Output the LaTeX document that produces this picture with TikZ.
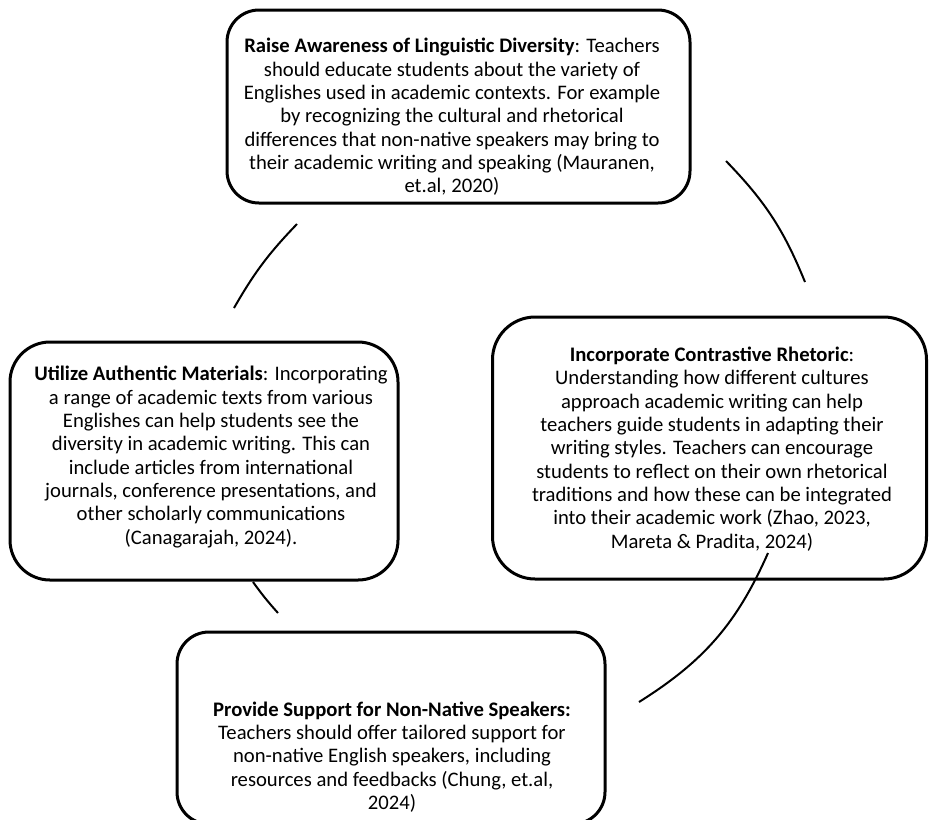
\documentclass[tikz,border=0pt]{standalone}
\usepackage{fontspec}
\setmainfont{Carlito}
\begin{document}
\begin{tikzpicture}[x=0.75pt,y=-0.75pt,
  card/.style={draw=black, line width=2.25pt, rounded corners=#1,
    inner sep=0pt, fill=none},
  cardtext/.style={align=center, inner sep=0pt,
    font=\fontsize{15.5}{17.5}\selectfont},
  link/.style={draw=black, line width=1.5pt}]
\useasboundingbox (0,0) rectangle (929,819);
\clip (0,0) rectangle (929,819);

% the four rounded cards
\node[card=24pt, minimum width=347.25pt, minimum height=144.75pt] (awareness) at (458.5,106.5) {};
\node[card=30pt, minimum width=291pt, minimum height=178.5pt] (materials) at (204,461) {};
\node[card=32pt, minimum width=325.5pt, minimum height=196.5pt] (rhetoric) at (709.5,448) {};
\node[card=24pt, minimum width=321pt, minimum height=144pt] (support) at (391,728) {};

% card texts
\node[cardtext] (awarenesstext) at (452,117) {\textbf{Raise Awareness of Linguistic Diversity}: Teachers\\
should educate students about the variety of\\
Englishes used in academic contexts. For example\\
by recognizing the cultural and rhetorical\\
differences that non-native speakers may bring to\\
their academic writing and speaking (Mauranen,\\
et.al, 2020)};
\node[cardtext] (materialstext) at (211,457) {\textbf{Utilize Authentic Materials}: Incorporating\\
a range of academic texts from various\\
Englishes can help students see the\\
diversity in academic writing. This can\\
include articles from international\\
journals, conference presentations, and\\
other scholarly communications\\
(Canagarajah, 2024).};
\node[cardtext] (rhetorictext) at (712,449) {\textbf{Incorporate Contrastive Rhetoric}:\\
Understanding how different cultures\\
approach academic writing can help\\
teachers guide students in adapting their\\
writing styles. Teachers can encourage\\
students to reflect on their own rhetorical\\
traditions and how these can be integrated\\
into their academic work (Zhao, 2023,\\
Mareta \& Pradita, 2024)};
\node[cardtext] (supporttext) at (392,757) {\textbf{Provide Support for Non-Native Speakers:}\\
Teachers should offer tailored support for\\
non-native English speakers, including\\
resources and feedbacks (Chung, et.al,\\
2024)};

% end points of the cycle arcs
\coordinate (a1s) at (726,161);
\coordinate (a1e) at (805,282);
\coordinate (a2s) at (768,553);
\coordinate (a2e) at (639,702);
\coordinate (a3s) at (253,582);
\coordinate (a3e) at (278,613);
\coordinate (a4s) at (297,224);
\coordinate (a4e) at (234,308);

% cycle arcs
\draw[link] (a1s) to[bend left=11] (a1e);
\draw[link] (a2s) to[bend left=17] (a2e);
\draw[link] (a3s) to[bend right=3] (a3e);
\draw[link] (a4s) to[bend right=7] (a4e);
\end{tikzpicture}
\end{document}
